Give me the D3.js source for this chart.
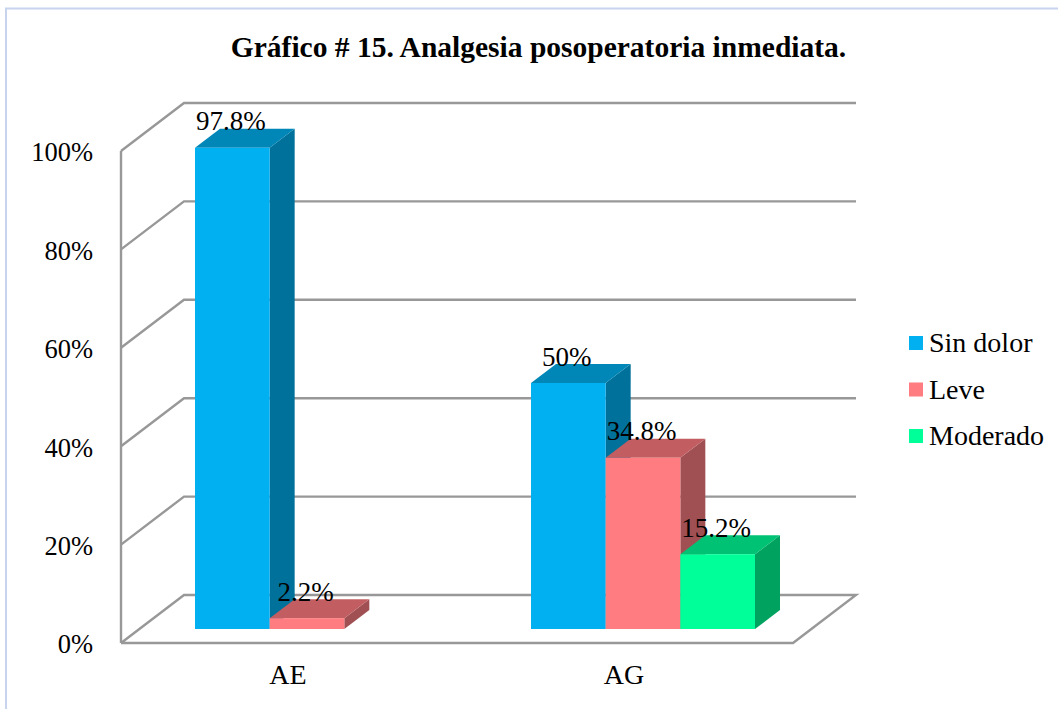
<!DOCTYPE html>
<html>
<head>
<meta charset="utf-8">
<script src="https://cdn.jsdelivr.net/npm/d3@7"></script>
<style>
    html, body { margin: 0; padding: 0; background: #fff; }
    svg { display: block; }
    text { font-family: "Liberation Serif", serif; fill: #000; }
</style>
</head>
<body>
<div id="chart"></div>
<script>
const categories = ["AE", "AG"];
const seriesNames = ["Sin dolor", "Leve", "Moderado"];
const sinDolor = [97.8, 50];
const leve = [2.2, 34.8];
const moderado = [null, 15.2];
const yTicks = [0, 20, 40, 60, 80, 100];

const frontColors = ["#00b0f0", "#ff7c80", "#00ff99"];
const topColors = ["#0087b8", "#c25e61", "#00c274"];
const sideColors = ["#00719b", "#a05052", "#00a260"];
const gridColor = "#989898";

const width = 1058, height = 709;
let svg = d3.select("#chart").append("svg")
    .attr("width", width)
    .attr("height", height);

// frame around the chart, only the top and left sides show
svg.append("path")
    .attr("d", "M6,709V8.5H1058")
    .attr("fill", "none")
    .attr("stroke", "#c8d4ee")
    .attr("stroke-width", 2);

svg.append("text")
    .attr("x", 538.5)
    .attr("y", 57)
    .attr("text-anchor", "middle")
    .attr("font-weight", "bold")
    .attr("font-size", 29.5)
    .text("Gráfico # 15. Analgesia posoperatoria inmediata.");

let x = d3.scaleBand().domain(categories).range([121, 793]);
let y = d3.scaleLinear().domain([0, 100]).range([643, 151]);

// 3d offsets: back wall, bar depth, bar distance from the floor edge
const wallDx = 63, wallDy = -48;
const barDx = 25, barDy = -19;
const floorDx = 18, floorDy = -14;

let xSeries = d3.scaleBand().domain(seriesNames).range([-112, 112]);

// walls and floor
let grid = svg.append("g")
    .attr("fill", "none")
    .attr("stroke", gridColor)
    .attr("stroke-width", 2.4);

grid.selectAll(".back")
    .data(yTicks)
    .enter().append("path")
    .attr("class", "back")
    .attr("d", d => {
        let left = x.range()[0], right = x.range()[1];
        if (d === 0) {
            return `M${left},${y(0)}L${right},${y(0)}L${right + wallDx},${y(0) + wallDy}L${left + wallDx},${y(0) + wallDy}L${left},${y(0)}`;
        }
        return `M${left},${y(d)}L${left + wallDx},${y(d) + wallDy}L${right + wallDx},${y(d) + wallDy}`;
    });

grid.append("line")
    .attr("x1", x.range()[0])
    .attr("x2", x.range()[0])
    .attr("y1", y(0))
    .attr("y2", y(100));

// axes
let yAxis = d3.axisLeft(y)
    .tickValues(yTicks)
    .tickFormat(d => d + "%")
    .tickSize(0)
    .tickPadding(28);
let yG = svg.append("g")
    .attr("transform", `translate(${x.range()[0]},1.5)`)
    .call(yAxis);
yG.select(".domain").remove();
yG.selectAll("text").attr("font-size", 26.5).attr("font-family", null);

let xAxis = d3.axisBottom(x).tickSize(0).tickPadding(21);
let xG = svg.append("g")
    .attr("transform", `translate(-1,${y(0)})`)
    .call(xAxis);
xG.select(".domain").remove();
xG.selectAll("text").attr("font-size", 28).attr("font-family", null);

// bars, drawn from left to right so that each one covers the side of the last
let allSeries = [sinDolor, leve, moderado];
let bars = [];
categories.forEach((c, i) => {
    allSeries.forEach((values, s) => {
        if (values[i] !== null) {
            bars.push({ category: c, series: s, value: values[i] });
        }
    });
});

function barBox(d) {
    let x0 = x(d.category) + x.bandwidth() / 2 + floorDx + xSeries(seriesNames[d.series]);
    return {
        x0: x0,
        x1: x0 + xSeries.bandwidth(),
        top: y(d.value) + floorDy,
        bottom: y(0) + floorDy
    };
}

let barG = svg.selectAll(".bar")
    .data(bars)
    .enter().append("g")
    .attr("class", "bar");

barG.append("path")
    .attr("fill", d => sideColors[d.series])
    .attr("d", d => {
        let b = barBox(d);
        return `M${b.x1},${b.top}L${b.x1 + barDx},${b.top + barDy}L${b.x1 + barDx},${b.bottom + barDy}L${b.x1},${b.bottom}Z`;
    });

barG.append("path")
    .attr("fill", d => topColors[d.series])
    .attr("d", d => {
        let b = barBox(d);
        return `M${b.x0},${b.top}L${b.x0 + barDx},${b.top + barDy}L${b.x1 + barDx},${b.top + barDy}L${b.x1},${b.top}Z`;
    });

barG.append("rect")
    .attr("fill", d => frontColors[d.series])
    .attr("x", d => barBox(d).x0)
    .attr("y", d => barBox(d).top)
    .attr("width", xSeries.bandwidth())
    .attr("height", d => barBox(d).bottom - barBox(d).top);

// labels go last, they sit on top of the neighbouring bars
svg.selectAll(".value-label")
    .data(bars)
    .enter().append("text")
    .attr("class", "value-label")
    .attr("x", d => (barBox(d).x0 + barBox(d).x1) / 2 - 1.5)
    .attr("y", d => barBox(d).top - 17.5)
    .attr("text-anchor", "middle")
    .attr("font-size", 27)
    .text(d => d.value + "%");

// legend
let legend = svg.selectAll(".legend")
    .data(seriesNames)
    .enter().append("g")
    .attr("class", "legend")
    .attr("transform", (d, i) => `translate(909,${336 + i * 46.5})`);

legend.append("rect")
    .attr("width", 14)
    .attr("height", 14)
    .attr("fill", (d, i) => frontColors[i]);

legend.append("text")
    .attr("x", 20)
    .attr("y", 16)
    .attr("font-size", 28)
    .text(d => d);
</script>
</body>
</html>
